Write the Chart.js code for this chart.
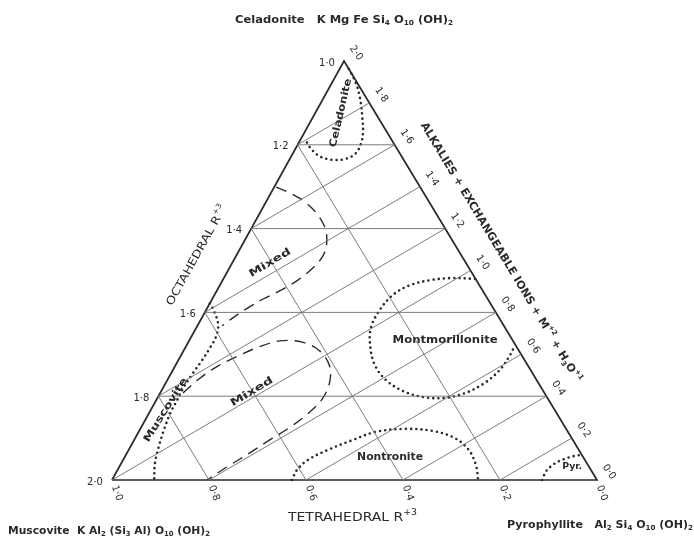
<!DOCTYPE html>
<html>
<head>
<meta charset="utf-8">
<script src="https://cdn.jsdelivr.net/npm/chart.js@4/dist/chart.umd.min.js"></script>
<style>
  html, body { margin: 0; padding: 0; background: #fff; }
  canvas { display: block; }
</style>
</head>
<body>
<canvas id="chartTernary" width="694" height="540"></canvas>
<script>
// tick values on the three sides
const octTicks = [1.0, 1.2, 1.4, 1.6, 1.8, 2.0]
const tetTicks = [1.0, 0.8, 0.6, 0.4, 0.2, 0.0]
const alkTicks = [2.0, 1.8, 1.6, 1.4, 1.2, 1.0, 0.8, 0.6, 0.4, 0.2, 0.0]

// grid lines drawn inside the triangle
const octGrid = [1.2, 1.4, 1.6, 1.8]
const tetGrid = [0.8, 0.6, 0.4, 0.2]
const alkGrid = [1.8, 1.6, 1.4, 1.2, 1.0, 0.8, 0.6, 0.4, 0.2]

// field outlines, [tetrahedral, octahedral] pairs
const celadoniteField = [
  [0.000, 1.019], [0.003, 1.053], [0.013, 1.088], [0.030, 1.129], [0.049, 1.169],
  [0.070, 1.200], [0.093, 1.222], [0.120, 1.234], [0.146, 1.236], [0.167, 1.229],
  [0.177, 1.212], [0.178, 1.191],
]
const muscoviteField = [
  [0.578, 1.578], [0.580, 1.601], [0.588, 1.630], [0.608, 1.659], [0.634, 1.685],
  [0.665, 1.714], [0.700, 1.745], [0.736, 1.778], [0.766, 1.809], [0.798, 1.842],
  [0.831, 1.881], [0.861, 1.919], [0.890, 1.959], [0.913, 2.000],
]
const mixedUpper = [
  [0.297, 1.301], [0.276, 1.315], [0.256, 1.337], [0.246, 1.365], [0.247, 1.399],
  [0.262, 1.434], [0.286, 1.465], [0.322, 1.494], [0.368, 1.523], [0.415, 1.547],
  [0.463, 1.568], [0.511, 1.592], [0.549, 1.613], [0.581, 1.632],
]
const mixedLower = [
  [0.745, 1.792], [0.692, 1.757], [0.640, 1.728], [0.586, 1.704], [0.533, 1.683],
  [0.481, 1.668], [0.436, 1.671], [0.411, 1.692], [0.409, 1.726], [0.429, 1.766],
  [0.466, 1.807], [0.514, 1.842], [0.567, 1.874], [0.626, 1.905], [0.687, 1.938],
  [0.747, 1.969], [0.804, 2.000],
]
const montmorilloniteField = [
  [0.001, 1.520], [0.048, 1.518], [0.095, 1.523], [0.143, 1.535], [0.190, 1.558],
  [0.236, 1.594], [0.277, 1.637], [0.302, 1.683], [0.315, 1.726], [0.311, 1.761],
  [0.289, 1.788], [0.255, 1.802], [0.211, 1.804], [0.162, 1.792], [0.110, 1.768],
  [0.063, 1.737], [0.024, 1.702], [0.001, 1.678],
]
const nontroniteField = [
  [0.629, 2.000], [0.606, 1.976], [0.571, 1.952], [0.517, 1.928], [0.455, 1.905],
  [0.396, 1.885], [0.332, 1.878], [0.277, 1.883], [0.241, 1.900], [0.227, 1.928],
  [0.231, 1.964], [0.245, 2.000],
]
const pyrophylliteField = [
  [0.113, 2.000], [0.094, 1.979], [0.069, 1.962], [0.042, 1.950], [0.018, 1.943],
  [0.000, 1.940],
]

// field names and where they sit, [tetrahedral, octahedral]
const fieldNames = ['Celadonite', 'Muscovite', 'Mixed', 'Mixed', 'Montmorillonite', 'Nontronite', 'Pyr.']
const fieldNameAt = [
  [0.071, 1.124], [0.802, 1.833], [0.404, 1.482], [0.602, 1.790],
  [0.139, 1.666], [0.399, 1.947], [0.035, 1.969],
]

const APEX_X = 0.4784 // the scanned triangle leans a little to the left
const INK = '#2a2a2a'
const FONT = '"DejaVu Sans", sans-serif'

// tetrahedral + octahedral -> plane x/y (Muscovite bottom left, Pyrophyllite bottom right, Celadonite top)
function tern(tet, oct) {
  const f = 2 - oct
  const u = oct - 1 - tet
  return { x: u + APEX_X * f, y: f }
}

const fmt = v => v.toFixed(1).replace('.', '·')

const thin = { borderColor: '#6d6d6d', borderWidth: 0.9 }
const dotted = { borderColor: INK, borderWidth: 2.6, borderDash: [0, 5.2], borderCapStyle: 'round', tension: 0.35 }
const dashed = { borderColor: INK, borderWidth: 1.4, borderDash: [11, 7], tension: 0.35 }

function path(points, style) {
  return {
    data: points.map(p => tern(p[0], p[1])),
    showLine: true,
    pointRadius: 0,
    clip: false,
    ...style,
  }
}

const datasets = []
octGrid.forEach(o => datasets.push(path([[o - 1, o], [0, o]], thin)))
tetGrid.forEach(t => datasets.push(path([[t, 2], [t, 1 + t]], thin)))
alkGrid.forEach(a => {
  const end = a >= 1 ? [2 - a, 3 - a] : [a, 2]
  datasets.push(path([end, [0, 2 - a / 2]], thin))
})
datasets.push(path([[1, 2], [0, 2], [0, 1], [1, 2]], { borderColor: INK, borderWidth: 1.7 }))
datasets.push(path(celadoniteField, dotted))
datasets.push(path(muscoviteField, dotted))
datasets.push(path(montmorilloniteField, dotted))
datasets.push(path(nontroniteField, dotted))
datasets.push(path(pyrophylliteField, dotted))
datasets.push(path(mixedUpper, dashed))
datasets.push(path(mixedLower, dashed))

// text with _{sub} and ^{sup} parts
function drawRich(ctx, str, x, y, o) {
  const size = o.size || 10
  const weight = o.weight || 'normal'
  const segs = []
  str.split(/(_\{[^}]*\}|\^\{[^}]*\})/).forEach(s => {
    if (!s) return
    if (s[0] === '_') segs.push({ t: s.slice(2, -1), dy: size * 0.32, k: 0.68 })
    else if (s[0] === '^') segs.push({ t: s.slice(2, -1), dy: -size * 0.4, k: 0.68 })
    else segs.push({ t: s, dy: 0, k: 1 })
  })
  let w = 0
  segs.forEach(s => {
    ctx.font = `${weight} ${Math.round(size * s.k)}px ${FONT}`
    s.w = ctx.measureText(s.t).width
    w += s.w
  })
  ctx.save()
  ctx.translate(x, y)
  ctx.rotate(((o.angle || 0) * Math.PI) / 180)
  if (o.fit) ctx.scale(o.fit / w, 1)
  ctx.fillStyle = INK
  ctx.textBaseline = 'middle'
  ctx.textAlign = 'left'
  let cx = -w / 2
  segs.forEach(s => {
    ctx.font = `${weight} ${Math.round(size * s.k)}px ${FONT}`
    ctx.fillText(s.t, cx, s.dy)
    cx += s.w
  })
  ctx.restore()
}

const fieldStyle = [
  { angle: -77, fit: 70, size: 10, weight: 'bold' },
  { angle: -58, fit: 74, size: 10, weight: 'bold' },
  { angle: -31, fit: 47, size: 10, weight: 'bold' },
  { angle: -31, fit: 48, size: 10, weight: 'bold' },
  { angle: 0, fit: 105, size: 11, weight: 'bold' },
  { angle: 0, fit: 66, size: 10, weight: 'bold' },
  { angle: 0, fit: 20, size: 9, weight: 'bold' },
]

const labels = {
  id: 'labels',
  afterDatasetsDraw(chart) {
    const ctx = chart.ctx
    const xs = chart.scales.x
    const ys = chart.scales.y
    const px = (tet, oct) => {
      const p = tern(tet, oct)
      return [xs.getPixelForValue(p.x), ys.getPixelForValue(p.y)]
    }

    octTicks.forEach(o => {
      const [x, y] = px(o - 1, o)
      drawRich(ctx, fmt(o), x - 17, y + 2, { size: 10 })
    })
    tetTicks.forEach(t => {
      const [x, y] = px(t, 2)
      drawRich(ctx, fmt(t), x + 5, y + 13, { size: 10, angle: 70 })
    })
    alkTicks.forEach(a => {
      const [x, y] = px(0, 2 - a / 2)
      drawRich(ctx, fmt(a), x + 12, y - 8, { size: 10, angle: 55 })
    })

    fieldNames.forEach((name, i) => {
      const [x, y] = px(fieldNameAt[i][0], fieldNameAt[i][1])
      drawRich(ctx, name, x, y, fieldStyle[i])
    })

    // side titles
    const [lx, ly] = px(0.5, 1.5)
    drawRich(ctx, 'OCTAHEDRAL R^{+3}', lx - 31, ly - 15, { size: 11, angle: -61, fit: 113 })
    const [rx, ry] = px(0, 1.5)
    drawRich(ctx, 'ALKALIES + EXCHANGEABLE IONS + M^{+2} + H_{3}O^{+1}', rx + 30, ry - 18,
      { size: 11, weight: 'bold', angle: 59, fit: 301 })
    const [bx, by] = px(0.5, 2)
    drawRich(ctx, 'TETRAHEDRAL R^{+3}', bx - 2, by + 38, { size: 12, fit: 129 })

    // end members
    const [tx, ty] = px(0, 1)
    drawRich(ctx, 'Celadonite   K Mg Fe Si_{4} O_{10} (OH)_{2}', tx, ty - 41, { size: 11, weight: 'bold', fit: 218 })
    drawRich(ctx, 'Muscovite  K Al_{2} (Si_{3} Al) O_{10} (OH)_{2}', 109, 531, { size: 11, weight: 'bold', fit: 202 })
    drawRich(ctx, 'Pyrophyllite   Al_{2} Si_{4} O_{10} (OH)_{2}', 600, 525, { size: 11, weight: 'bold', fit: 186 })
  },
}

const whiteBg = {
  id: 'whiteBg',
  beforeDraw(chart) {
    const ctx = chart.ctx
    ctx.save()
    ctx.fillStyle = '#ffffff'
    ctx.fillRect(0, 0, chart.width, chart.height)
    ctx.restore()
  },
}

new Chart(document.getElementById('chartTernary'), {
  type: 'scatter',
  data: { datasets },
  plugins: [whiteBg, labels],
  options: {
    animation: false,
    responsive: false,
    events: [],
    layout: { padding: { left: 112, right: 97, top: 61, bottom: 60 } },
    scales: {
      x: { type: 'linear', min: 0, max: 1, display: false },
      y: { type: 'linear', min: 0, max: 1, display: false },
    },
    plugins: {
      legend: { display: false },
      tooltip: { enabled: false },
    },
  },
})
</script>
</body>
</html>
